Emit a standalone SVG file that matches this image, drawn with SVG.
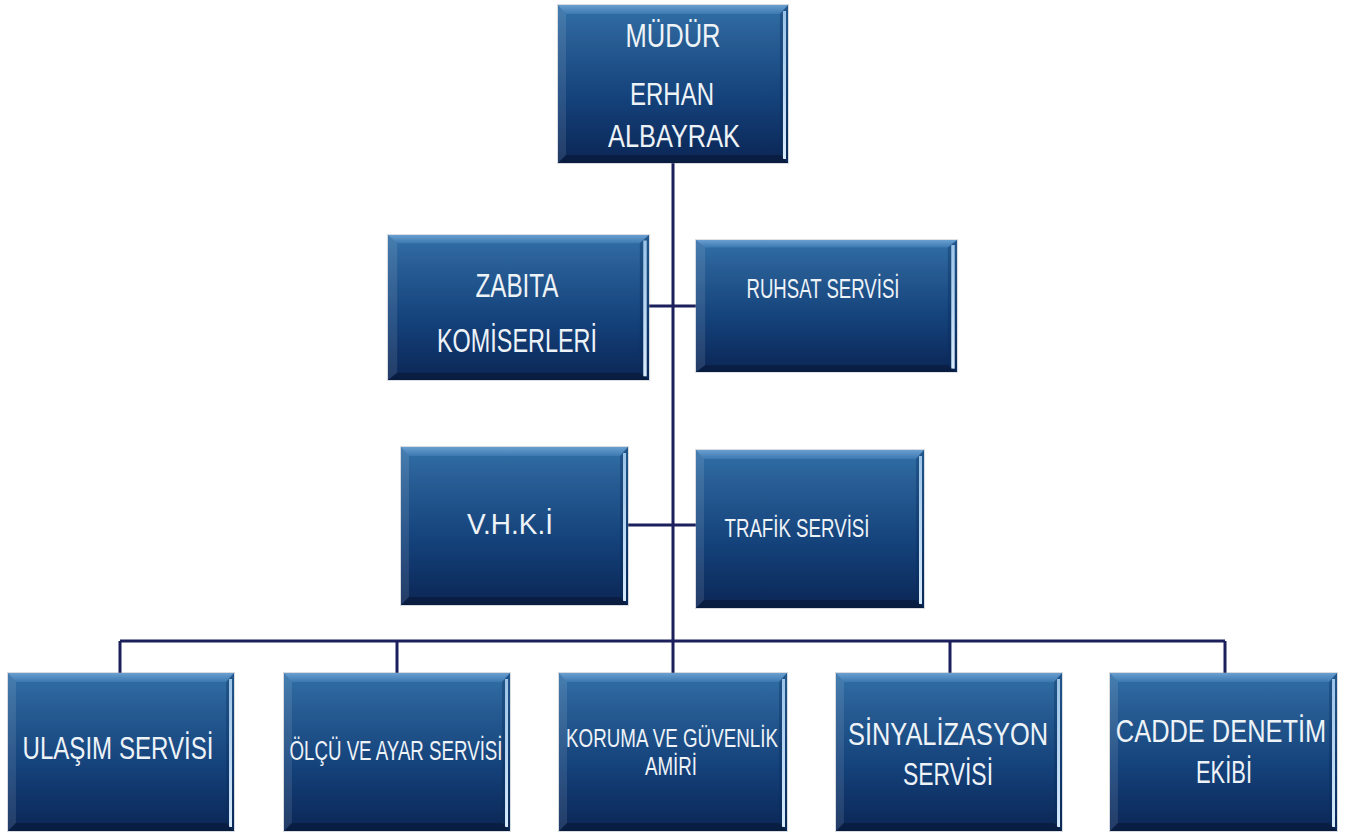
<svg xmlns="http://www.w3.org/2000/svg" xmlns:xlink="http://www.w3.org/1999/xlink" width="1347" height="834" viewBox="0 0 1347 834">
<style>
.t{font-family:"Liberation Sans","DejaVu Sans",sans-serif;fill:#eef3f8;text-anchor:middle}
.c{stroke:#1b1f5c;stroke-width:3;fill:none}
</style>
<defs>
<linearGradient id="body" x1="0" y1="0" x2="0" y2="1">
<stop offset="0" stop-color="#3170a8"/>
<stop offset="0.2" stop-color="#285e95"/>
<stop offset="0.6" stop-color="#14417a"/>
<stop offset="1" stop-color="#0b2655"/>
</linearGradient>
<linearGradient id="topb" x1="0" y1="0" x2="0" y2="1">
<stop offset="0" stop-color="#6a9fd0"/>
<stop offset="1" stop-color="#3c78b0"/>
</linearGradient>
<linearGradient id="rb" x1="0" y1="0" x2="0" y2="1">
<stop offset="0" stop-color="#9cc4e8"/>
<stop offset="1" stop-color="#d8ebfb"/>
</linearGradient>
<g id="box">
<rect x="-1" y="-1" width="230" height="160" fill="#8f9aa6" opacity="0.35"/>
<rect width="228" height="158" fill="url(#body)"/>
<polygon points="0,0 228,0 220,9 8,9" fill="url(#topb)"/>
<polygon points="0,0 8,9 8,150 0,158" fill="#ffffff" opacity="0.10"/>
<polygon points="228,0 228,158 220,150 220,9" fill="#0a2a5a" opacity="0.35"/>
<rect x="223" y="6" width="3" height="148" fill="url(#rb)"/>
<polygon points="0,158 228,158 220,150 8,150" fill="#000000" opacity="0.25"/>
</g>
</defs>
<rect width="1347" height="834" fill="#ffffff"/>
<g id="connectors">
<line class="c" x1="673" y1="162" x2="673" y2="641"/>
<line class="c" x1="648" y1="306" x2="696" y2="306"/>
<line class="c" x1="628" y1="525" x2="696" y2="525"/>
<line class="c" x1="120" y1="641" x2="1225" y2="641"/>
<line class="c" x1="120" y1="641" x2="120" y2="673"/>
<line class="c" x1="397" y1="641" x2="397" y2="673"/>
<line class="c" x1="673" y1="641" x2="673" y2="673"/>
<line class="c" x1="950" y1="641" x2="950" y2="673"/>
<line class="c" x1="1225" y1="641" x2="1225" y2="673"/>
</g>
<g id="mudur">
<use xlink:href="#box" transform="translate(558,5) scale(1.0088,1)"/>
<text class="t" x="673" y="47" font-size="33" textLength="95" lengthAdjust="spacingAndGlyphs">MÜDÜR</text>
<text class="t" x="672" y="105" font-size="32" textLength="84" lengthAdjust="spacingAndGlyphs">ERHAN</text>
<text class="t" x="674" y="147" font-size="32" textLength="132" lengthAdjust="spacingAndGlyphs">ALBAYRAK</text>
</g>
<g id="zabita">
<use xlink:href="#box" transform="translate(388,235) scale(1.1447,0.9177)"/>
<text class="t" x="517" y="297" font-size="33" textLength="83" lengthAdjust="spacingAndGlyphs">ZABITA</text>
<text class="t" x="517" y="352" font-size="33" textLength="160" lengthAdjust="spacingAndGlyphs">KOMİSERLERİ</text>
</g>
<g id="ruhsat">
<use xlink:href="#box" transform="translate(696,240) scale(1.1447,0.8354)"/>
<text class="t" x="823" y="298" font-size="28" textLength="153" lengthAdjust="spacingAndGlyphs">RUHSAT SERVİSİ</text>
</g>
<g id="vhki">
<use xlink:href="#box" transform="translate(401,447) scale(0.9956,1)"/>
<text class="t" x="510" y="534" font-size="30" textLength="86" lengthAdjust="spacingAndGlyphs">V.H.K.İ</text>
</g>
<g id="trafik">
<use xlink:href="#box" transform="translate(696,450) scale(1,1)"/>
<text class="t" x="797" y="537" font-size="25" textLength="145" lengthAdjust="spacingAndGlyphs">TRAFİK SERVİSİ</text>
</g>
<g id="ulasim">
<use xlink:href="#box" transform="translate(8,673) scale(0.9912,1)"/>
<text class="t" x="118" y="759" font-size="31" textLength="191" lengthAdjust="spacingAndGlyphs">ULAŞIM  SERVİSİ</text>
</g>
<g id="olcu">
<use xlink:href="#box" transform="translate(284,673) scale(0.9912,1)"/>
<text class="t" x="396" y="760" font-size="27" textLength="213" lengthAdjust="spacingAndGlyphs">ÖLÇÜ VE AYAR SERVİSİ</text>
</g>
<g id="koruma">
<use xlink:href="#box" transform="translate(559,673) scale(1,1)"/>
<text class="t" x="672" y="747" font-size="26" textLength="212" lengthAdjust="spacingAndGlyphs">KORUMA VE GÜVENLİK</text>
<text class="t" x="671" y="775" font-size="26" textLength="52" lengthAdjust="spacingAndGlyphs">AMİRİ</text>
</g>
<g id="sinyal">
<use xlink:href="#box" transform="translate(836,673) scale(0.9912,1)"/>
<text class="t" x="948" y="745" font-size="31" textLength="200" lengthAdjust="spacingAndGlyphs">SİNYALİZASYON</text>
<text class="t" x="948" y="785" font-size="31" textLength="90" lengthAdjust="spacingAndGlyphs">SERVİSİ</text>
</g>
<g id="cadde">
<use xlink:href="#box" transform="translate(1110,673) scale(0.9956,1)"/>
<text class="t" transform="translate(1221,742) scale(0.82,1)" x="0" y="0" font-size="31">CADDE DENETİM</text>
<text class="t" x="1224" y="783" font-size="31" textLength="56" lengthAdjust="spacingAndGlyphs">EKİBİ</text>
</g>
</svg>
